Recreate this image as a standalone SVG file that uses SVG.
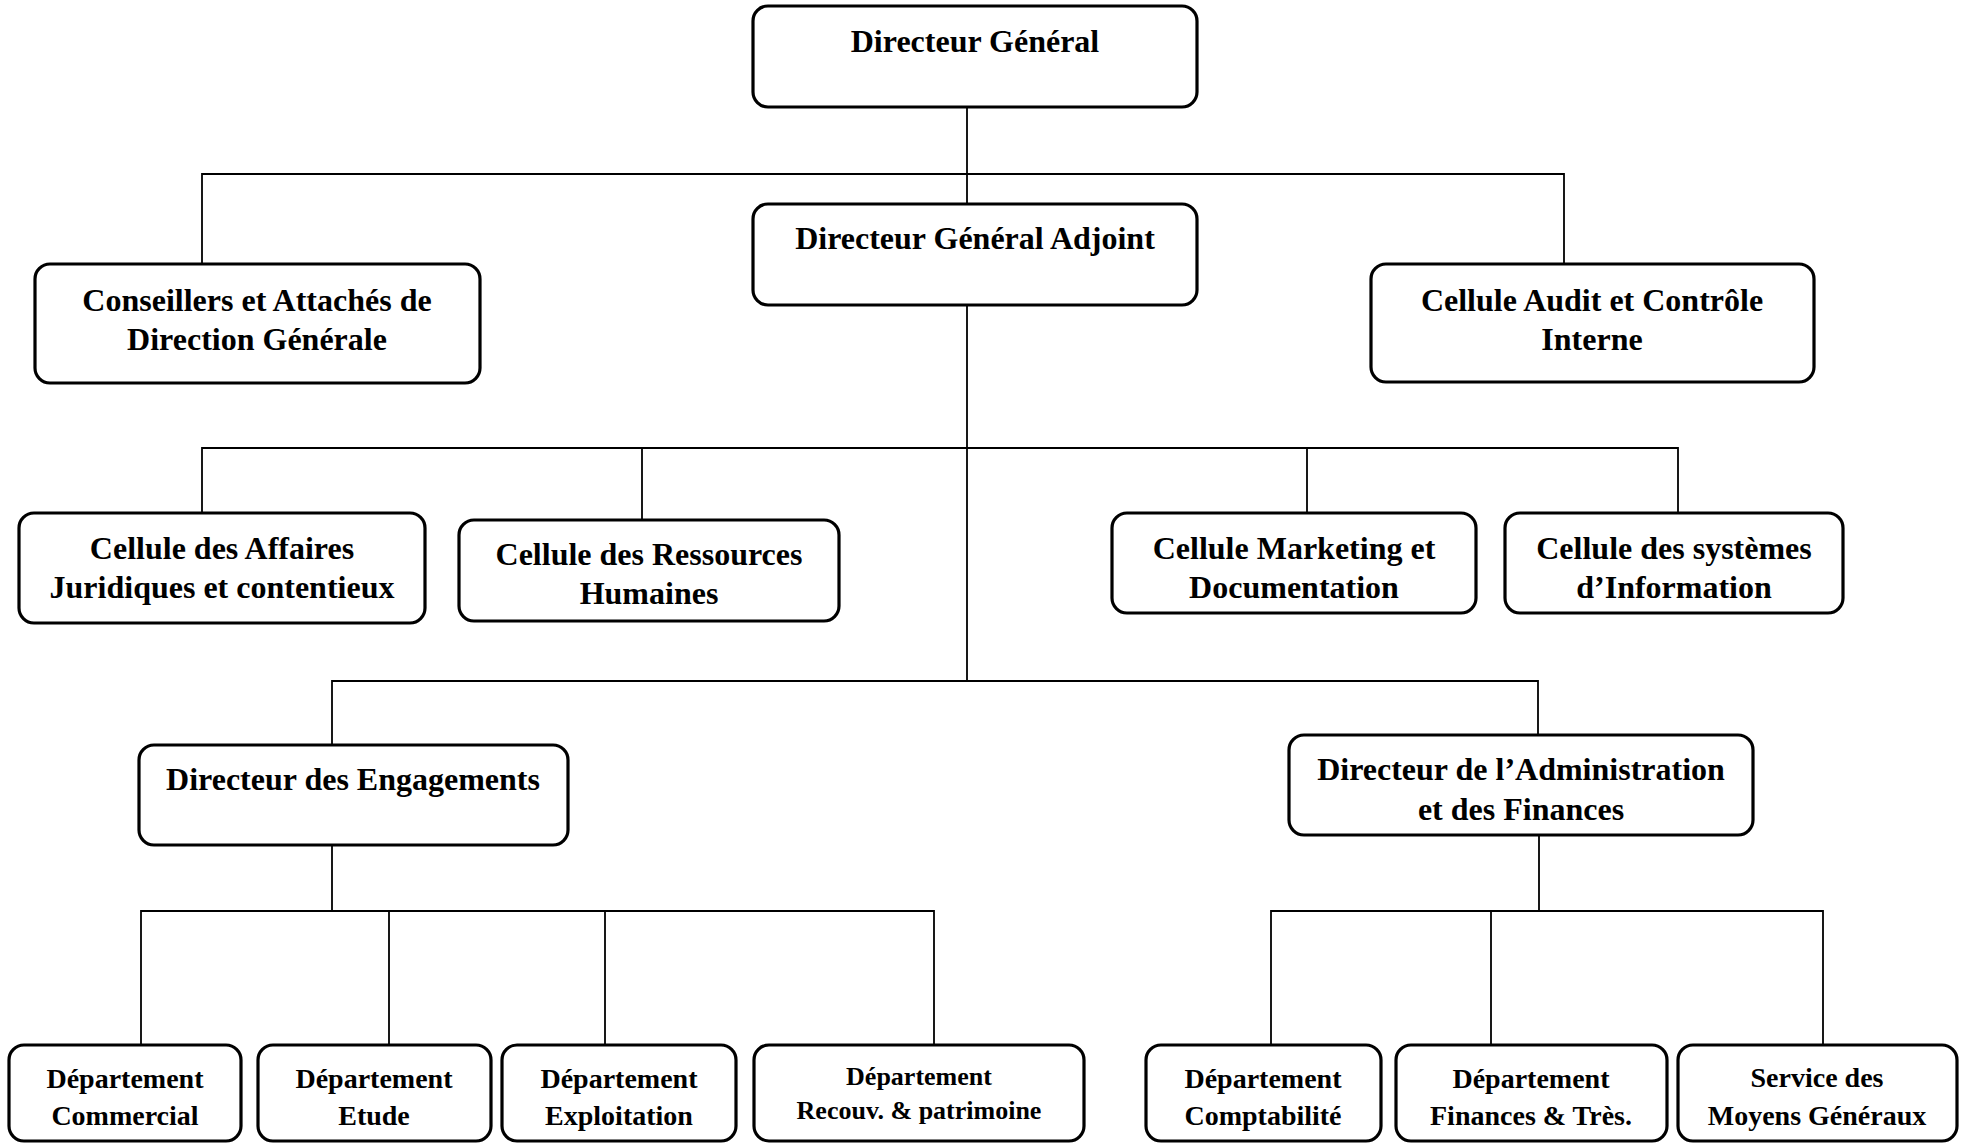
<svg xmlns="http://www.w3.org/2000/svg" width="1968" height="1143" viewBox="0 0 1968 1143">
<style>
.box{fill:#fff;stroke:#000;stroke-width:3.2}
.t{font-family:"Liberation Serif","Times New Roman",serif;font-weight:bold;font-size:32px;fill:#000;text-anchor:middle}
.s{font-size:28px}
.xs{font-size:26px}
.c{fill:none;stroke:#000;stroke-width:1.8}
</style>
<rect width="1968" height="1143" fill="#fff"/>
<g id="connectors">
<path class="c" d="M967 107V203M202 263V174H1564V263"/>
<path class="c" d="M967 305V681M202 512V448H1678V512M642 448V519M1307 448V512"/>
<path class="c" d="M332 744V681H1538V734"/>
<path class="c" d="M332 845V911M141 1044V911H934V1044M389 911V1044M605 911V1044"/>
<path class="c" d="M1539 835V911M1271 1044V911H1823V1044M1491 911V1044"/>
</g>
<g id="dg"><rect class="box" x="753" y="6" width="444" height="101" rx="15"/><text class="t" x="975" y="52">Directeur Général</text></g>
<g id="dga"><rect class="box" x="753" y="204" width="444" height="101" rx="15"/><text class="t" x="975" y="249">Directeur Général Adjoint</text></g>
<g id="conseillers"><rect class="box" x="35" y="264" width="445" height="119" rx="15"/><text class="t" x="257" y="311">Conseillers et Attachés de</text><text class="t" x="257" y="350">Direction Générale</text></g>
<g id="audit"><rect class="box" x="1371" y="264" width="443" height="118" rx="15"/><text class="t" x="1592" y="311">Cellule Audit et Contrôle</text><text class="t" x="1592" y="350">Interne</text></g>
<g id="affaires"><rect class="box" x="19" y="513" width="406" height="110" rx="15"/><text class="t" x="222" y="559">Cellule des Affaires</text><text class="t" x="222" y="598">Juridiques et contentieux</text></g>
<g id="rh"><rect class="box" x="459" y="520" width="380" height="101" rx="15"/><text class="t" x="649" y="565">Cellule des Ressources</text><text class="t" x="649" y="604">Humaines</text></g>
<g id="marketing"><rect class="box" x="1112" y="513" width="364" height="100" rx="15"/><text class="t" x="1294" y="559">Cellule Marketing et</text><text class="t" x="1294" y="598">Documentation</text></g>
<g id="si"><rect class="box" x="1505" y="513" width="338" height="100" rx="15"/><text class="t" x="1674" y="559">Cellule des systèmes</text><text class="t" x="1674" y="598">d’Information</text></g>
<g id="de"><rect class="box" x="139" y="745" width="429" height="100" rx="15"/><text class="t" x="353" y="790">Directeur des Engagements</text></g>
<g id="daf"><rect class="box" x="1289" y="735" width="464" height="100" rx="15"/><text class="t" x="1521" y="780">Directeur de l’Administration</text><text class="t" x="1521" y="820">et des Finances</text></g>
<g id="commercial"><rect class="box" x="9" y="1045" width="232" height="96" rx="15"/><text class="t s" x="125" y="1088">Département</text><text class="t s" x="125" y="1125">Commercial</text></g>
<g id="etude"><rect class="box" x="258" y="1045" width="233" height="96" rx="15"/><text class="t s" x="374" y="1088">Département</text><text class="t s" x="374" y="1125">Etude</text></g>
<g id="exploitation"><rect class="box" x="502" y="1045" width="234" height="96" rx="15"/><text class="t s" x="619" y="1088">Département</text><text class="t s" x="619" y="1125">Exploitation</text></g>
<g id="recouv"><rect class="box" x="754" y="1045" width="330" height="96" rx="15"/><text class="t xs" x="919" y="1085">Département</text><text class="t xs" x="919" y="1119">Recouv. &amp; patrimoine</text></g>
<g id="comptabilite"><rect class="box" x="1146" y="1045" width="235" height="96" rx="15"/><text class="t s" x="1263" y="1088">Département</text><text class="t s" x="1263" y="1125">Comptabilité</text></g>
<g id="finances"><rect class="box" x="1396" y="1045" width="271" height="96" rx="15"/><text class="t s" x="1531" y="1088">Département</text><text class="t s" x="1531" y="1125">Finances &amp; Très.</text></g>
<g id="moyens"><rect class="box" x="1678" y="1045" width="279" height="96" rx="15"/><text class="t s" x="1817" y="1087">Service des</text><text class="t s" x="1817" y="1125">Moyens Généraux</text></g>
</svg>
